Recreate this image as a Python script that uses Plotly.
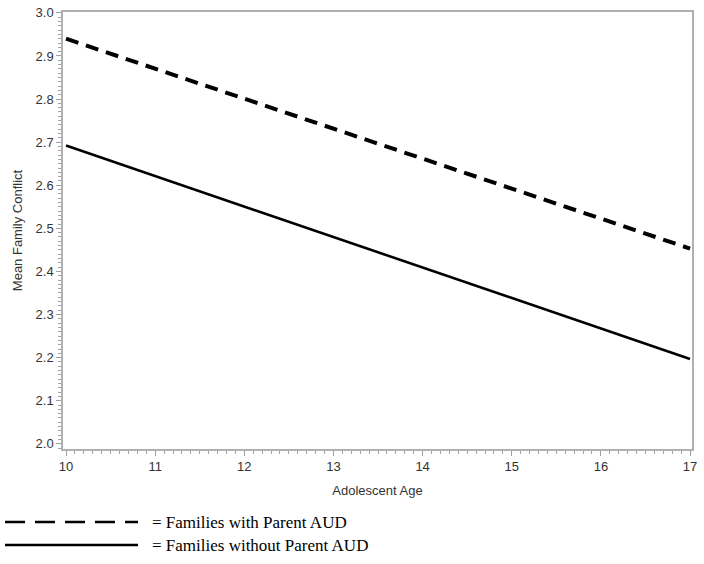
import plotly.graph_objects as go

ages = [10, 17]
with_aud = [2.94, 2.453]
without_aud = [2.692, 2.197]
legend_labels = ["= Families with Parent AUD", "= Families without Parent AUD"]
y_ticks = [2.0, 2.1, 2.2, 2.3, 2.4, 2.5, 2.6, 2.7, 2.8, 2.9, 3.0]
x_ticks = [10, 11, 12, 13, 14, 15, 16, 17]

fig = go.Figure()
fig.add_trace(go.Scatter(x=ages, y=with_aud, mode="lines",
                         line=dict(color="black", width=4, dash="13px,8px"),
                         name=legend_labels[0], showlegend=False))
fig.add_trace(go.Scatter(x=ages, y=without_aud, mode="lines",
                         line=dict(color="black", width=2.6),
                         name=legend_labels[1], showlegend=False))

axis_font = dict(family="Liberation Sans, Arial, sans-serif", size=13, color="#333333")
fig.update_xaxes(range=[9.966, 17.022], tickvals=x_ticks, ticktext=[str(v) for v in x_ticks],
                 automargin=False,
                 showgrid=False, zeroline=False, showline=True, linecolor="#b0b0b0", linewidth=1.5,
                 mirror=True, ticks="outside", ticklen=5, tickcolor="#a0a0a0", tickwidth=1,
                 tickfont=axis_font,
                 minor=dict(dtick=0.1, ticks="outside", ticklen=3, tickcolor="#a0a0a0", showgrid=False),
                 title=dict(text="Adolescent Age", font=axis_font, standoff=13))
fig.update_yaxes(range=[1.988, 3.002], tickvals=y_ticks, ticktext=[f"{v:.1f}" for v in y_ticks],
                 automargin=False,
                 showgrid=False, zeroline=False, showline=True, linecolor="#b0b0b0", linewidth=1.5,
                 mirror=True, ticks="outside", ticklen=5, tickcolor="#a0a0a0", tickwidth=1,
                 tickfont=axis_font,
                 minor=dict(dtick=0.01, ticks="outside", ticklen=3, tickcolor="#a0a0a0", showgrid=False),
                 title=dict(text="Mean Family Conflict", font=axis_font, standoff=10))

FW, FH = 704, 564
L, T, R, B = 63, 12, 12, 115
W, H = FW - L - R, FH - T - B
def px_to_paper(x, y):
    return (x - L) / W, 1 - (y - T) / H

for i, (lbl, dash) in enumerate(zip(legend_labels, ["20px,10px", "solid"])):
    yy = 522 + i * 23
    x0, y0 = px_to_paper(5, yy)
    x1, _ = px_to_paper(138, yy)
    fig.add_shape(type="line", xref="paper", yref="paper", x0=x0, x1=x1, y0=y0, y1=y0,
                  line=dict(color="black", width=2.5, dash=dash))
    tx, ty = px_to_paper(150, yy)
    fig.add_annotation(xref="paper", yref="paper", x=tx, y=ty, text=lbl, showarrow=False,
                       xanchor="left", yanchor="middle",
                       font=dict(family="Liberation Serif, Times New Roman, serif", size=17, color="black"))

fig.update_layout(width=FW, height=FH, margin=dict(l=L, r=R, t=T, b=B),
                  plot_bgcolor="white", paper_bgcolor="white", showlegend=False)
fig.write_html("out.html", config={"displayModeBar": False},
               post_script="document.body.style.margin='0';document.body.style.padding='0';document.body.style.overflow='hidden';")
